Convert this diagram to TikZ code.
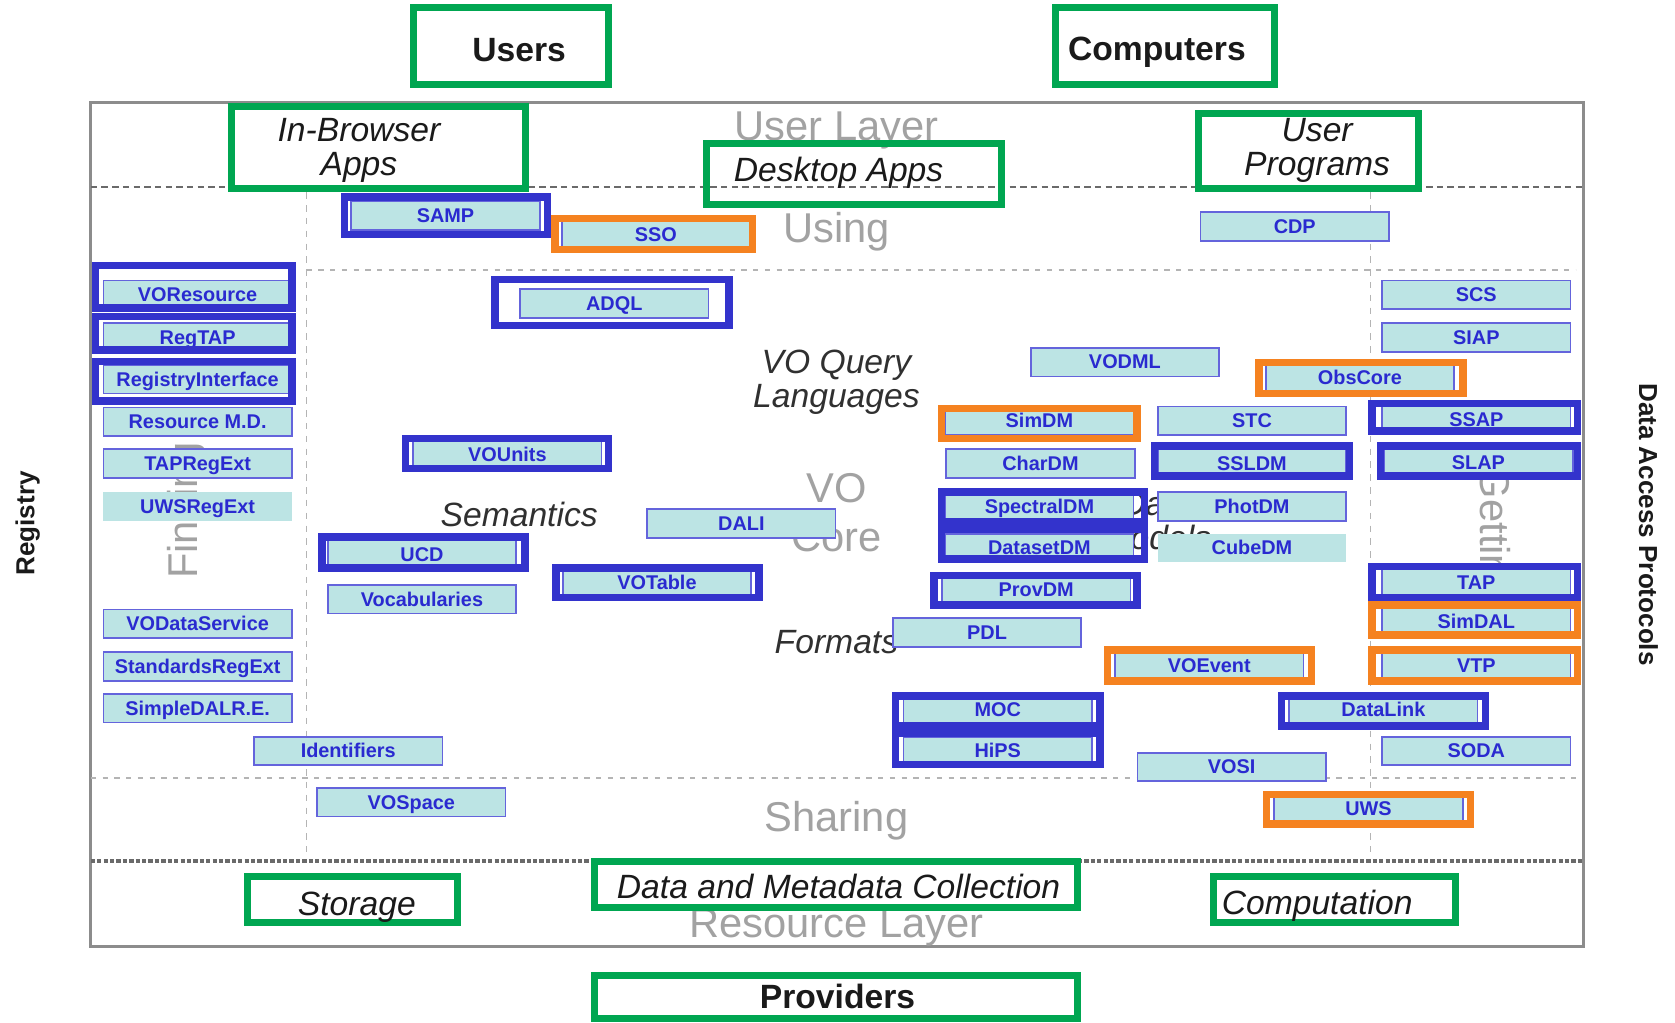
\documentclass[tikz,border=0pt]{standalone}
\usepackage{fontspec}
\setmainfont{Liberation Sans}
\usetikzlibrary{fit}
\definecolor{vgreen}{HTML}{00A651}
\definecolor{vblue}{HTML}{3333CC}
\definecolor{vorange}{HTML}{F58220}
\definecolor{ifill}{HTML}{BCE4E4}
\definecolor{iline}{HTML}{6464DC}
\definecolor{itext}{HTML}{2A2AD0}
\definecolor{laygray}{HTML}{A2A2A2}
\definecolor{cattext}{HTML}{303030}
\definecolor{blk}{HTML}{1A1A1A}
\definecolor{framegray}{HTML}{8C8C8C}
\definecolor{dashdark}{HTML}{6A6A6A}
\definecolor{dashlight}{HTML}{B4B4B4}
\tikzset{
 ibox/.style={draw=iline, line width=0.8pt, fill=ifill, text=itext, font=\bfseries\fontsize{9.3}{10}\selectfont, minimum width=88.2pt, minimum height=13.4pt, inner sep=0pt, text height=6.7pt, text depth=0.3pt},
 hlblue/.style={draw=vblue, line width=3.5pt, inner sep=0pt},
 hlorange/.style={draw=vorange, line width=3.5pt, inner sep=0pt},
 gbox/.style={draw=vgreen, line width=3.3pt, inner sep=0pt},
 gbold/.style={text=blk, font=\bfseries\fontsize{15.75}{16}\selectfont, align=center, inner sep=0pt},
 gital/.style={text=blk, font=\itshape\fontsize{15.75}{16}\selectfont, align=center, inner sep=0pt},
 laytext/.style={text=laygray, font=\fontsize{19.5}{20}\selectfont, inner sep=0pt},
 cattxt/.style={text=cattext, font=\itshape\fontsize{15.75}{16}\selectfont, align=center, inner sep=0pt},
 sidetext/.style={text=blk, font=\bfseries\fontsize{12.2}{13}\selectfont, inner sep=0pt},
 darkdash/.style={draw=dashdark, line width=1.2pt, dash pattern=on 3pt off 2pt},
 densedash/.style={draw=dashdark, line width=1.5pt, dash pattern=on 2pt off 1pt},
 lightdash/.style={draw=dashlight, line width=1pt, dash pattern=on 2.5pt off 3pt},
 vdash/.style={draw=dashlight, line width=0.8pt, dash pattern=on 3pt off 3pt},
}
\newcommand\ibx[4][]{\node[ibox,#1] (#2) at (#3) {#4};}
\newcommand\hlbx[6]{\node[#1, fit={(#3+3.5,#4+3.5)(#5-3.5,#6-3.5)}] (#2) {};}
\newcommand\gbx[5]{\node[gbox, fit={(#2+3.3,#3+3.3)(#4-3.3,#5-3.3)}] (#1) {};}
\begin{document}
\begin{tikzpicture}[x=0.5pt,y=-0.5pt]
\fill[white] (0,0) rectangle (1568,957);
\useasboundingbox (0,0) rectangle (1568,957);
% frame and layer lines
\draw[framegray, line width=1.3pt] (85,96) rectangle (1482,886);
\draw[vdash] (287,180) -- (287,806);
\draw[vdash] (1283,180) -- (1283,806);
\draw[darkdash] (85,175) -- (1482,175);
\draw[lightdash] (287,253) -- (1475,253);
\draw[lightdash] (85,728) -- (1475,728);
\draw[densedash] (85,806) -- (1482,806);
% layer texts
\node[laytext] (userlayer) at (783,122) {User Layer};
\node[laytext] (using) at (783,217) {Using};
\node[laytext] (vo) at (783,457) {VO};
\node[laytext] (core) at (783,503) {Core};
\node[laytext] (sharing) at (783,768) {Sharing};
\node[laytext] (reslayer) at (783,868) {Resource Layer};
\node[laytext, rotate=90] (finding) at (175,478) {Finding};
\node[laytext, rotate=-90] (getting) at (1396,500) {Getting};
% category texts
\node[cattxt] (voql) at (783,358) {VO Query\\Languages};
\node[cattxt] (semantics) at (486,482) {Semantics};
\node[cattxt] (formats) at (783,601) {Formats};
\node[cattxt] (datamodels) at (1083,488) {Data\\Models};
% standard boxes
\ibx{samp}{417,202}{SAMP}
\ibx{sso}{614,220}{SSO}
\ibx{cdp}{1212,212}{CDP}
\ibx{voresource}{185,276}{VOResource}
\ibx{regtap}{185,316}{RegTAP}
\ibx{reginterface}{185,355}{RegistryInterface}
\ibx{resmd}{185,395}{Resource M.D.}
\ibx{tapregext}{185,434}{TAPRegExt}
\ibx[draw=none]{uwsregext}{185,474}{UWSRegExt}
\ibx{vodataservice}{185,584}{VODataService}
\ibx{stdregext}{185,624}{StandardsRegExt}
\ibx{simpledalre}{185,663}{SimpleDALR.E.}
\ibx{identifiers}{326,703}{Identifiers}
\ibx{vospace}{385,751}{VOSpace}
\ibx{adql}{575,284}{ADQL}
\ibx{vounits}{475,426}{VOUnits}
\ibx{ucd}{395,519}{UCD}
\ibx{vocab}{395,561}{Vocabularies}
\ibx{dali}{694,490}{DALI}
\ibx{votable}{615,545}{VOTable}
\ibx{vodml}{1053,339}{VODML}
\ibx{obscore}{1273,354}{ObsCore}
\ibx{simdm}{973,394}{SimDM}
\ibx{stc}{1172,394}{STC}
\ibx{chardm}{974,434}{CharDM}
\ibx{ssldm}{1172,434}{SSLDM}
\ibx{spectraldm}{973,474}{SpectralDM}
\ibx{photdm}{1172,474}{PhotDM}
\ibx{datasetdm}{973,513}{DatasetDM}
\ibx[draw=none]{cubedm}{1172,513}{CubeDM}
\ibx{provdm}{970,552}{ProvDM}
\ibx{pdl}{924,592}{PDL}
\ibx{voevent}{1132,623}{VOEvent}
\ibx{moc}{934,664}{MOC}
\ibx{hips}{934,703}{HiPS}
\ibx{datalink}{1295,664}{DataLink}
\ibx{vosi}{1153,718}{VOSI}
\ibx{uws}{1281,757}{UWS}
\ibx{scs}{1382,276}{SCS}
\ibx{siap}{1382,316}{SIAP}
\ibx{ssap}{1382,393}{SSAP}
\ibx{slap}{1384,433}{SLAP}
\ibx{tap}{1382,545}{TAP}
\ibx{simdal}{1382,582}{SimDAL}
\ibx{vtp}{1382,623}{VTP}
\ibx{soda}{1382,703}{SODA}
% blue highlights
\hlbx{hlblue}{hl-samp}{319}{181}{516}{223}
\hlbx{hlblue}{hl-adql}{460}{258}{686}{308}
\hlbx{hlblue}{hl-voresource}{86}{245}{277}{292}
\hlbx{hlblue}{hl-regtap}{86}{293}{277}{331}
\hlbx{hlblue}{hl-reginterface}{86}{335}{277}{379}
\hlbx{hlblue}{hl-vounits}{376}{407}{573}{442}
\hlbx{hlblue}{hl-ucd}{298}{499}{495}{535}
\hlbx{hlblue}{hl-votable}{517}{528}{714}{563}
\hlbx{hlblue}{hl-spectraldm}{878}{457}{1075}{492}
\hlbx{hlblue}{hl-datasetdm}{878}{492}{1075}{527}
\hlbx{hlblue}{hl-provdm}{871}{535}{1068}{570}
\hlbx{hlblue}{hl-ssldm}{1077}{414}{1267}{449}
\hlbx{hlblue}{hl-moc}{835}{648}{1033}{683}
\hlbx{hlblue}{hl-hips}{835}{683}{1033}{719}
\hlbx{hlblue}{hl-datalink}{1196}{648}{1394}{683}
\hlbx{hlblue}{hl-ssap}{1281}{374}{1480}{407}
\hlbx{hlblue}{hl-slap}{1289}{414}{1480}{449}
\hlbx{hlblue}{hl-tap}{1281}{527}{1480}{563}
% orange highlights
\hlbx{hlorange}{hl-sso}{516}{201}{708}{237}
\hlbx{hlorange}{hl-obscore}{1175}{336}{1373}{372}
\hlbx{hlorange}{hl-simdm}{878}{379}{1068}{414}
\hlbx{hlorange}{hl-voevent}{1033}{605}{1231}{641}
\hlbx{hlorange}{hl-simdal}{1281}{563}{1480}{598}
\hlbx{hlorange}{hl-vtp}{1281}{605}{1480}{641}
\hlbx{hlorange}{hl-uws}{1182}{740}{1380}{775}
% green boxes
\gbx{users}{384}{4}{573}{82}
\gbx{computers}{985}{4}{1196}{82}
\gbx{inbrowser}{213}{96}{495}{180}
\gbx{desktop}{658}{131}{941}{195}
\gbx{userprog}{1119}{103}{1331}{180}
\gbx{storage}{228}{817}{432}{867}
\gbx{datacoll}{553}{803}{1012}{853}
\gbx{computation}{1133}{817}{1366}{867}
\gbx{providers}{553}{910}{1012}{957}
\node[gbold] (users-t) at (486,47) {Users};
\node[gbold] (computers-t) at (1083,49) {Computers};
\node[gital] (inbrowser-t) at (336,141) {In-Browser\\Apps};
\node[gital] (desktop-t) at (785,162) {Desktop Apps};
\node[gital] (userprog-t) at (1233,141) {User\\Programs};
\node[gital] (storage-t) at (334,849) {Storage};
\node[gital] (datacoll-t) at (785,830) {Data and Metadata Collection};
\node[gital] (computation-t) at (1233,848) {Computation};
\node[gbold] (providers-t) at (784,933) {Providers};
% side labels
\node[sidetext, rotate=90] (registry) at (26,490) {Registry};
\node[sidetext, rotate=-90] (dap) at (1543,491) {Data Access Protocols};
\end{tikzpicture}
\end{document}
